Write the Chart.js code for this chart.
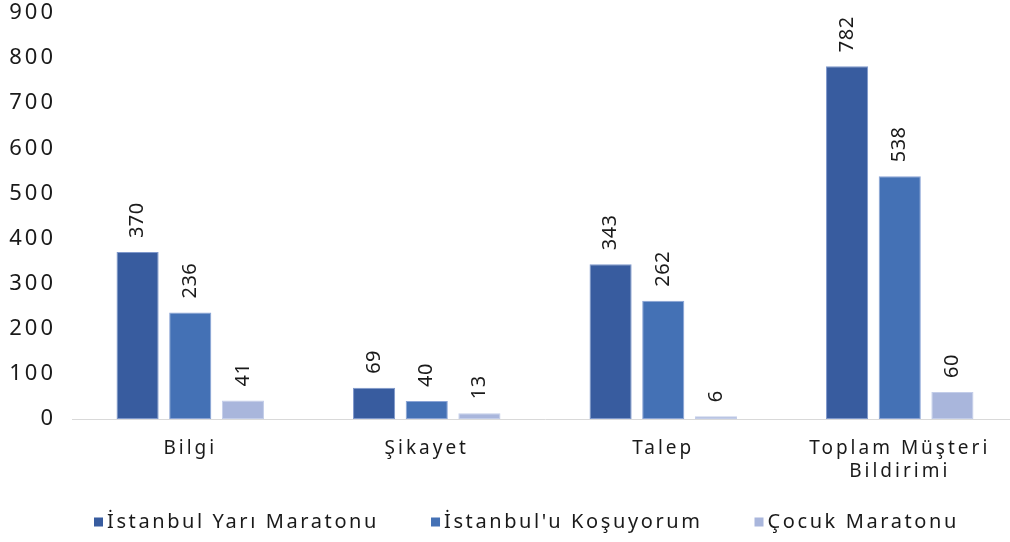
<!DOCTYPE html>
<html>
<head>
<meta charset="utf-8">
<script src="https://cdn.jsdelivr.net/npm/chart.js@4"></script>
<style>
  html, body { margin: 0; padding: 0; background: #fff; overflow: hidden; }
  #wrap { width: 1028px; height: 542px; }
</style>
</head>
<body>
<div id="wrap"><canvas id="barChart"></canvas></div>
<script>
const categories = ['Bilgi', 'Şikayet', 'Talep', ['Toplam Müşteri', 'Bildirimi']];
const yariMaraton = [370, 69, 343, 782];
const kosuyorum = [236, 40, 262, 538];
const cocukMaraton = [41, 13, 6, 60];
const yTicks = [0, 100, 200, 300, 400, 500, 600, 700, 800, 900];

const FONT = '"Noto Sans", sans-serif';

// wide letter spacing on the axis texts
const spacing = {
    id: 'spacing',
    beforeLayout(chart) { chart.ctx.letterSpacing = '3px'; },
    beforeDraw(chart) { chart.ctx.letterSpacing = '3px'; }
};

// value labels turned upright above each bar
const barLabels = {
    id: 'barLabels',
    afterDatasetsDraw(chart) {
        const ctx = chart.ctx;
        ctx.save();
        ctx.letterSpacing = '0.5px';
        ctx.font = '20px ' + FONT;
        ctx.fillStyle = '#1a1a1a';
        ctx.textAlign = 'left';
        ctx.textBaseline = 'middle';
        chart.data.datasets.forEach((ds, i) => {
            chart.getDatasetMeta(i).data.forEach((bar, j) => {
                ctx.save();
                ctx.translate(bar.x, bar.y - 14);
                ctx.rotate(-Math.PI / 2);
                ctx.fillText(String(ds.data[j]), 0, 0);
                ctx.restore();
            });
        });
        ctx.restore();
    }
};

// legend row along the bottom: small square, tight gap, then the label
const bottomLegend = {
    id: 'bottomLegend',
    afterDraw(chart) {
        const ctx = chart.ctx;
        const y = 522, box = 9, gap = 4, between = 52;
        ctx.save();
        ctx.letterSpacing = '2.6px';
        ctx.font = '20px ' + FONT;
        ctx.textAlign = 'left';
        ctx.textBaseline = 'middle';
        let x = 94;
        chart.data.datasets.forEach(ds => {
            ctx.fillStyle = ds.backgroundColor;
            ctx.fillRect(x, y - box / 2, box, box);
            ctx.fillStyle = '#1a1a1a';
            ctx.fillText(ds.label, x + box + gap, y);
            x += box + gap + ctx.measureText(ds.label).width + between;
        });
        ctx.restore();
    }
};

const ctx = document.getElementById('barChart').getContext('2d');
new Chart(ctx, {
    type: 'bar',
    data: {
        labels: categories,
        datasets: [{
            label: 'İstanbul Yarı Maratonu',
            data: yariMaraton,
            backgroundColor: '#385c9f',
            borderColor: '#7f98cc'
        }, {
            label: "İstanbul'u Koşuyorum",
            data: kosuyorum,
            backgroundColor: '#4471b5',
            borderColor: '#8aa4d6'
        }, {
            label: 'Çocuk Maratonu',
            data: cocukMaraton,
            backgroundColor: '#a9b6dc',
            borderColor: '#c3cde9'
        }]
    },
    options: {
        responsive: true,
        maintainAspectRatio: false,
        animation: false,
        datasets: {
            bar: {
                barPercentage: 0.8,
                categoryPercentage: 0.668,
                borderWidth: 1,
                borderSkipped: false
            }
        },
        layout: { padding: { top: 0, right: 10, bottom: 53 } },
        plugins: {
            legend: { display: false },
            tooltip: { enabled: false }
        },
        scales: {
            x: {
                grid: { display: false },
                border: { color: '#d9d9d9', width: 1 },
                ticks: { color: '#1a1a1a', font: { family: FONT, size: 19 }, padding: 10 },
                afterFit: s => { s.height = 70; }
            },
            y: {
                min: 0,
                max: 900,
                afterBuildTicks: s => { s.ticks = yTicks.map(v => ({ value: v })); },
                grid: { display: false, drawTicks: false },
                border: { display: false },
                ticks: { color: '#1a1a1a', font: { family: FONT, size: 22 }, padding: 16 },
                afterFit: s => { s.width = 72; s.paddingTop = 13; s.paddingBottom = 0; }
            }
        }
    },
    plugins: [spacing, barLabels, bottomLegend]
});
</script>
</body>
</html>
